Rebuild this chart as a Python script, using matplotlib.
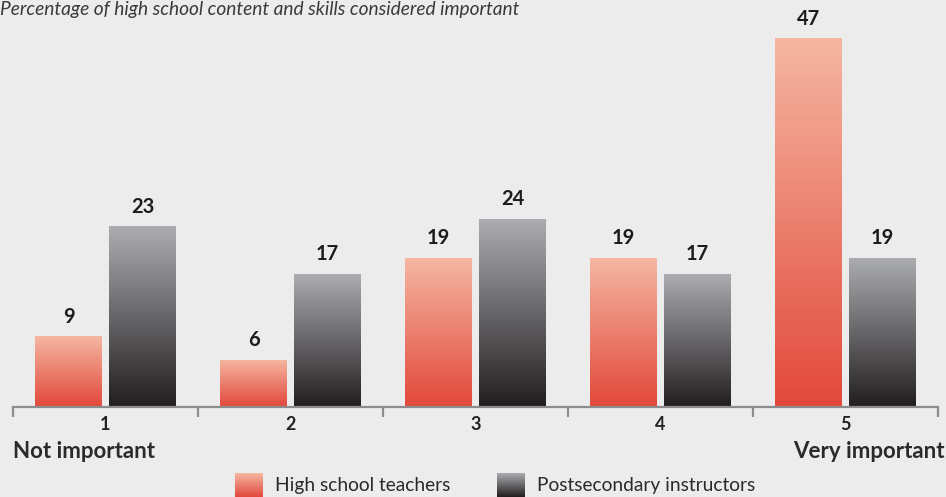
import matplotlib
matplotlib.use("Agg")
import matplotlib.pyplot as plt
import numpy as np
from matplotlib.colors import LinearSegmentedColormap

categories = ["1", "2", "3", "4", "5"]
high_school = [9, 6, 19, 19, 47]
postsecondary = [23, 17, 24, 17, 19]
series_names = ["High school teachers", "Postsecondary instructors"]
title = "Percentage of high school content and skills considered important"
left_end = "Not important"
right_end = "Very important"

BG = "#ececec"
hs_cmap = LinearSegmentedColormap.from_list("hs", ["#e2483b", "#f5b7a2"])
ps_cmap = LinearSegmentedColormap.from_list("ps", ["#221e1f", "#acadb1"])

W, H = 946, 497
fig = plt.figure(figsize=(W / 100, H / 100), dpi=100, facecolor=BG)
FONT = "Lato"
HEAVY = "bold"

px_per_unit = 7.85
base_px = 407
ymax = 50
ax = fig.add_axes([13 / W, (H - base_px) / H, 925 / W, ymax * px_per_unit / H])
ax.set_facecolor(BG)
ax.set_xlim(0.5, 5.5)
ax.set_ylim(0, ymax)
for s in ["top", "right", "left"]:
    ax.spines[s].set_visible(False)
ax.spines["bottom"].set_color("#8c8c8c")
ax.spines["bottom"].set_linewidth(1.6)
ax.set_yticks([])
ax.set_xticks(np.arange(0.5, 6.0, 1.0))
ax.tick_params(axis="x", length=7.5, width=1.6, color="#8c8c8c", labelbottom=False)

x = np.arange(1, len(categories) + 1)
bw = 0.362
off = 0.2
grad = np.linspace(0, 1, 256).reshape(-1, 1)

def grad_bars(xs, vals, cmap):
    bars = ax.bar(xs, vals, width=bw, color="none", edgecolor="none")
    for b in bars:
        x0, y0 = b.get_x(), b.get_y()
        w, h = b.get_width(), b.get_height()
        im = ax.imshow(grad, extent=[x0, x0 + w, y0, y0 + h], origin="lower",
                       aspect="auto", cmap=cmap, zorder=2)
        im.set_clip_path(b)
    return bars

b1 = grad_bars(x - off, high_school, hs_cmap)
b2 = grad_bars(x + off, postsecondary, ps_cmap)
ax.set_xlim(0.5, 5.5)
ax.set_ylim(0, ymax)

for bars, vals in ((b1, high_school), (b2, postsecondary)):
    for b, v in zip(bars, vals):
        ax.annotate(str(v), (b.get_x() + b.get_width() / 2, v), xytext=(0, 14),
                    textcoords="offset points", ha="center", va="center",
                    fontsize=14.5, fontweight=HEAVY, color="#1c1c1c", family=FONT)

for xi, c in zip(x, categories):
    ax.annotate(c, (xi, 0), xytext=(0, -12.5), textcoords="offset points",
                ha="center", va="center", fontsize=13, fontweight=HEAVY,
                color="#222222", family=FONT)

fig.text(13 / W, 1 - 451 / H, left_end, ha="left", va="center", fontsize=16,
         fontweight=HEAVY, color="#2a2a2a", family=FONT)
fig.text(945 / W, 1 - 451 / H, right_end, ha="right", va="center", fontsize=16,
         fontweight=HEAVY, color="#2a2a2a", family=FONT)

fig.text(0, 1 - 10 / H, title, ha="left", va="center", fontsize=13.8,
         style="italic", fontweight="normal", color="#3a3a3a", family=FONT)

# legend
for (lx, tx), cmap, name in zip(((235, 275), (497, 537)), (hs_cmap, ps_cmap), series_names):
    lax = fig.add_axes([lx / W, 0, 28 / W, 24 / H])
    lax.imshow(grad, origin="lower", aspect="auto", cmap=cmap, extent=[0, 1, 0, 1])
    lax.axis("off")
    fig.text(tx / W, 1 - 486 / H, name, ha="left", va="center", fontsize=13.8,
             color="#2a2a2a", family=FONT)

fig.savefig("out.png", dpi=100, facecolor=BG)
